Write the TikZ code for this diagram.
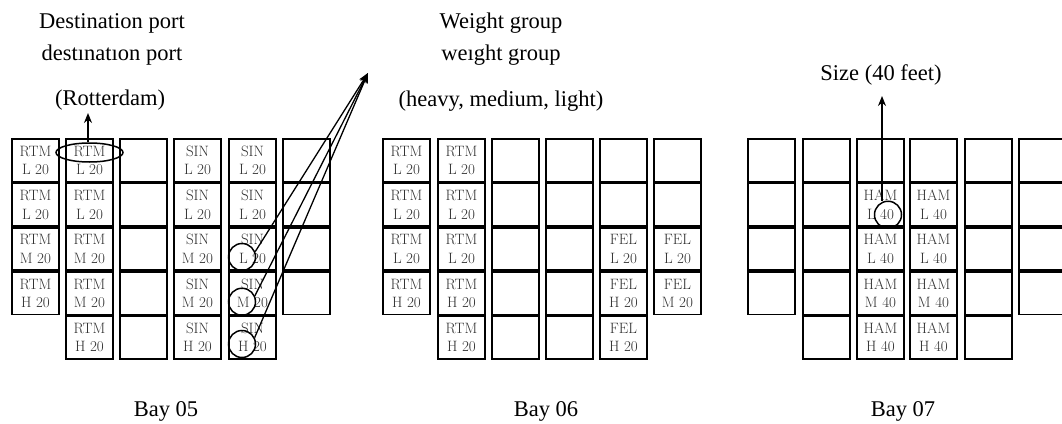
\documentclass[tikz,border=0pt]{standalone}
\usepackage{fontspec}
\newfontfamily\labfont{Liberation Serif}
\usetikzlibrary{shapes.geometric,arrows.meta,calc}
\definecolor{cellgray}{HTML}{303030}
\newcommand\cbox[4]{\node[cellbox] (#1) at (#2,#3) {#4};}
\begin{document}
\begin{tikzpicture}[x=1pt,y=-1pt,
  cellbox/.style={draw, line width=1.7pt, minimum width=47.3pt, minimum height=42.55pt, inner sep=0pt, align=center, font=\fontsize{15}{18.5}\selectfont, text=cellgray},
  ring/.style={draw, circle, line width=1.5pt, minimum size=27pt, inner sep=0pt},
  oval/.style={draw, ellipse, line width=1.5pt, minimum width=67pt, minimum height=19pt, inner sep=0pt},
  arr/.style={line width=1.3pt, -{Stealth[length=10pt,width=8pt]}},
  lab/.style={font=\labfont\fontsize{22.5}{27}\selectfont, inner sep=0pt, anchor=base}]
\useasboundingbox (0,0) rectangle (1062,423);
% ---------- Bay 05
\cbox{a11}{35.5}{160.5}{RTM\\L 20}
\cbox{a12}{35.5}{204.75}{RTM\\L 20}
\cbox{a13}{35.5}{249}{RTM\\M 20}
\cbox{a14}{35.5}{293.25}{RTM\\H 20}
\cbox{a21}{89.5}{160.5}{RTM\\L 20}
\cbox{a22}{89.5}{204.75}{RTM\\L 20}
\cbox{a23}{89.5}{249}{RTM\\M 20}
\cbox{a24}{89.5}{293.25}{RTM\\M 20}
\cbox{a25}{89.5}{337.5}{RTM\\H 20}
\cbox{a31}{143.5}{160.5}{}
\cbox{a32}{143.5}{204.75}{}
\cbox{a33}{143.5}{249}{}
\cbox{a34}{143.5}{293.25}{}
\cbox{a35}{143.5}{337.5}{}
\cbox{a41}{197.5}{160.5}{SIN\\L 20}
\cbox{a42}{197.5}{204.75}{SIN\\L 20}
\cbox{a43}{197.5}{249}{SIN\\M 20}
\cbox{a44}{197.5}{293.25}{SIN\\M 20}
\cbox{a45}{197.5}{337.5}{SIN\\H 20}
\cbox{a51}{252.5}{160.5}{SIN\\L 20}
\cbox{a52}{252.5}{204.75}{SIN\\L 20}
\cbox{a53}{252.5}{249}{SIN\\L 20}
\cbox{a54}{252.5}{293.25}{SIN\\M 20}
\cbox{a55}{252.5}{337.5}{SIN\\H 20}
\cbox{a61}{306.5}{160.5}{}
\cbox{a62}{306.5}{204.75}{}
\cbox{a63}{306.5}{249}{}
\cbox{a64}{306.5}{293.25}{}
% ---------- Bay 06
\cbox{b11}{406.5}{160.5}{RTM\\L 20}
\cbox{b12}{406.5}{204.75}{RTM\\L 20}
\cbox{b13}{406.5}{249}{RTM\\L 20}
\cbox{b14}{406.5}{293.25}{RTM\\H 20}
\cbox{b21}{461.5}{160.5}{RTM\\L 20}
\cbox{b22}{461.5}{204.75}{RTM\\L 20}
\cbox{b23}{461.5}{249}{RTM\\L 20}
\cbox{b24}{461.5}{293.25}{RTM\\H 20}
\cbox{b25}{461.5}{337.5}{RTM\\H 20}
\cbox{b31}{515.5}{160.5}{}
\cbox{b32}{515.5}{204.75}{}
\cbox{b33}{515.5}{249}{}
\cbox{b34}{515.5}{293.25}{}
\cbox{b35}{515.5}{337.5}{}
\cbox{b41}{569.5}{160.5}{}
\cbox{b42}{569.5}{204.75}{}
\cbox{b43}{569.5}{249}{}
\cbox{b44}{569.5}{293.25}{}
\cbox{b45}{569.5}{337.5}{}
\cbox{b51}{623.5}{160.5}{}
\cbox{b52}{623.5}{204.75}{}
\cbox{b53}{623.5}{249}{FEL\\L 20}
\cbox{b54}{623.5}{293.25}{FEL\\H 20}
\cbox{b55}{623.5}{337.5}{FEL\\H 20}
\cbox{b61}{677.5}{160.5}{}
\cbox{b62}{677.5}{204.75}{}
\cbox{b63}{677.5}{249}{FEL\\L 20}
\cbox{b64}{677.5}{293.25}{FEL\\M 20}
% ---------- Bay 07
\cbox{c11}{771.5}{160.5}{}
\cbox{c12}{771.5}{204.75}{}
\cbox{c13}{771.5}{249}{}
\cbox{c14}{771.5}{293.25}{}
\cbox{c21}{826.5}{160.5}{}
\cbox{c22}{826.5}{204.75}{}
\cbox{c23}{826.5}{249}{}
\cbox{c24}{826.5}{293.25}{}
\cbox{c25}{826.5}{337.5}{}
\cbox{c31}{880.5}{160.5}{}
\cbox{c32}{880.5}{204.75}{HAM\\L 40}
\cbox{c33}{880.5}{249}{HAM\\L 40}
\cbox{c34}{880.5}{293.25}{HAM\\M 40}
\cbox{c35}{880.5}{337.5}{HAM\\H 40}
\cbox{c41}{933.5}{160.5}{}
\cbox{c42}{933.5}{204.75}{HAM\\L 40}
\cbox{c43}{933.5}{249}{HAM\\L 40}
\cbox{c44}{933.5}{293.25}{HAM\\M 40}
\cbox{c45}{933.5}{337.5}{HAM\\H 40}
\cbox{c51}{988.5}{160.5}{}
\cbox{c52}{988.5}{204.75}{}
\cbox{c53}{988.5}{249}{}
\cbox{c54}{988.5}{293.25}{}
\cbox{c55}{988.5}{337.5}{}
\cbox{c61}{1042.5}{160.5}{}
\cbox{c62}{1042.5}{204.75}{}
\cbox{c63}{1042.5}{249}{}
\cbox{c64}{1042.5}{293.25}{}
% ---------- labels
\node[lab] (dp1) at (112,28.3) {Destination port};
\node[lab] (dp2) at (112,60) {destınatıon port};
\node[lab] (rot) at (110,105.5) {(Rotterdam)};
\node[lab] (wg1) at (501,28.3) {Weight group};
\node[lab] (wg2) at (501,60) {weıght group};
\node[lab] (hml) at (501,106) {(heavy, medium, light)};
\node[lab] (sz) at (881,80) {Size (40 feet)};
\node[lab] (bay5) at (166,416.5) {Bay 05};
\node[lab] (bay6) at (546,416.5) {Bay 06};
\node[lab] (bay7) at (903,416.5) {Bay 07};
% ---------- markers
\node[oval] (ell) at ($(a21)+(0,-8)$) {};
\node[ring] (w3) at ($(a53)+(-10.5,8)$) {};
\node[ring] (w4) at ($(a54)+(-10.5,8.5)$) {};
\node[ring] (w5) at ($(a55)+(-10.5,6.5)$) {};
\node[ring] (s40) at ($(c32)+(7.5,10)$) {};
\coordinate (rtip) at (88,113);
\coordinate (wtip) at (368,73);
\coordinate (stip) at (882,96);
\draw[arr] (rtip |- ell.north) -- (rtip);
\draw[arr] (w3.22) -- (wtip);
\draw[arr] (w4.25) -- (wtip);
\draw[arr] (w5.27) -- (wtip);
\draw[arr] (stip |- s40.north) -- (stip);
\end{tikzpicture}
\end{document}
